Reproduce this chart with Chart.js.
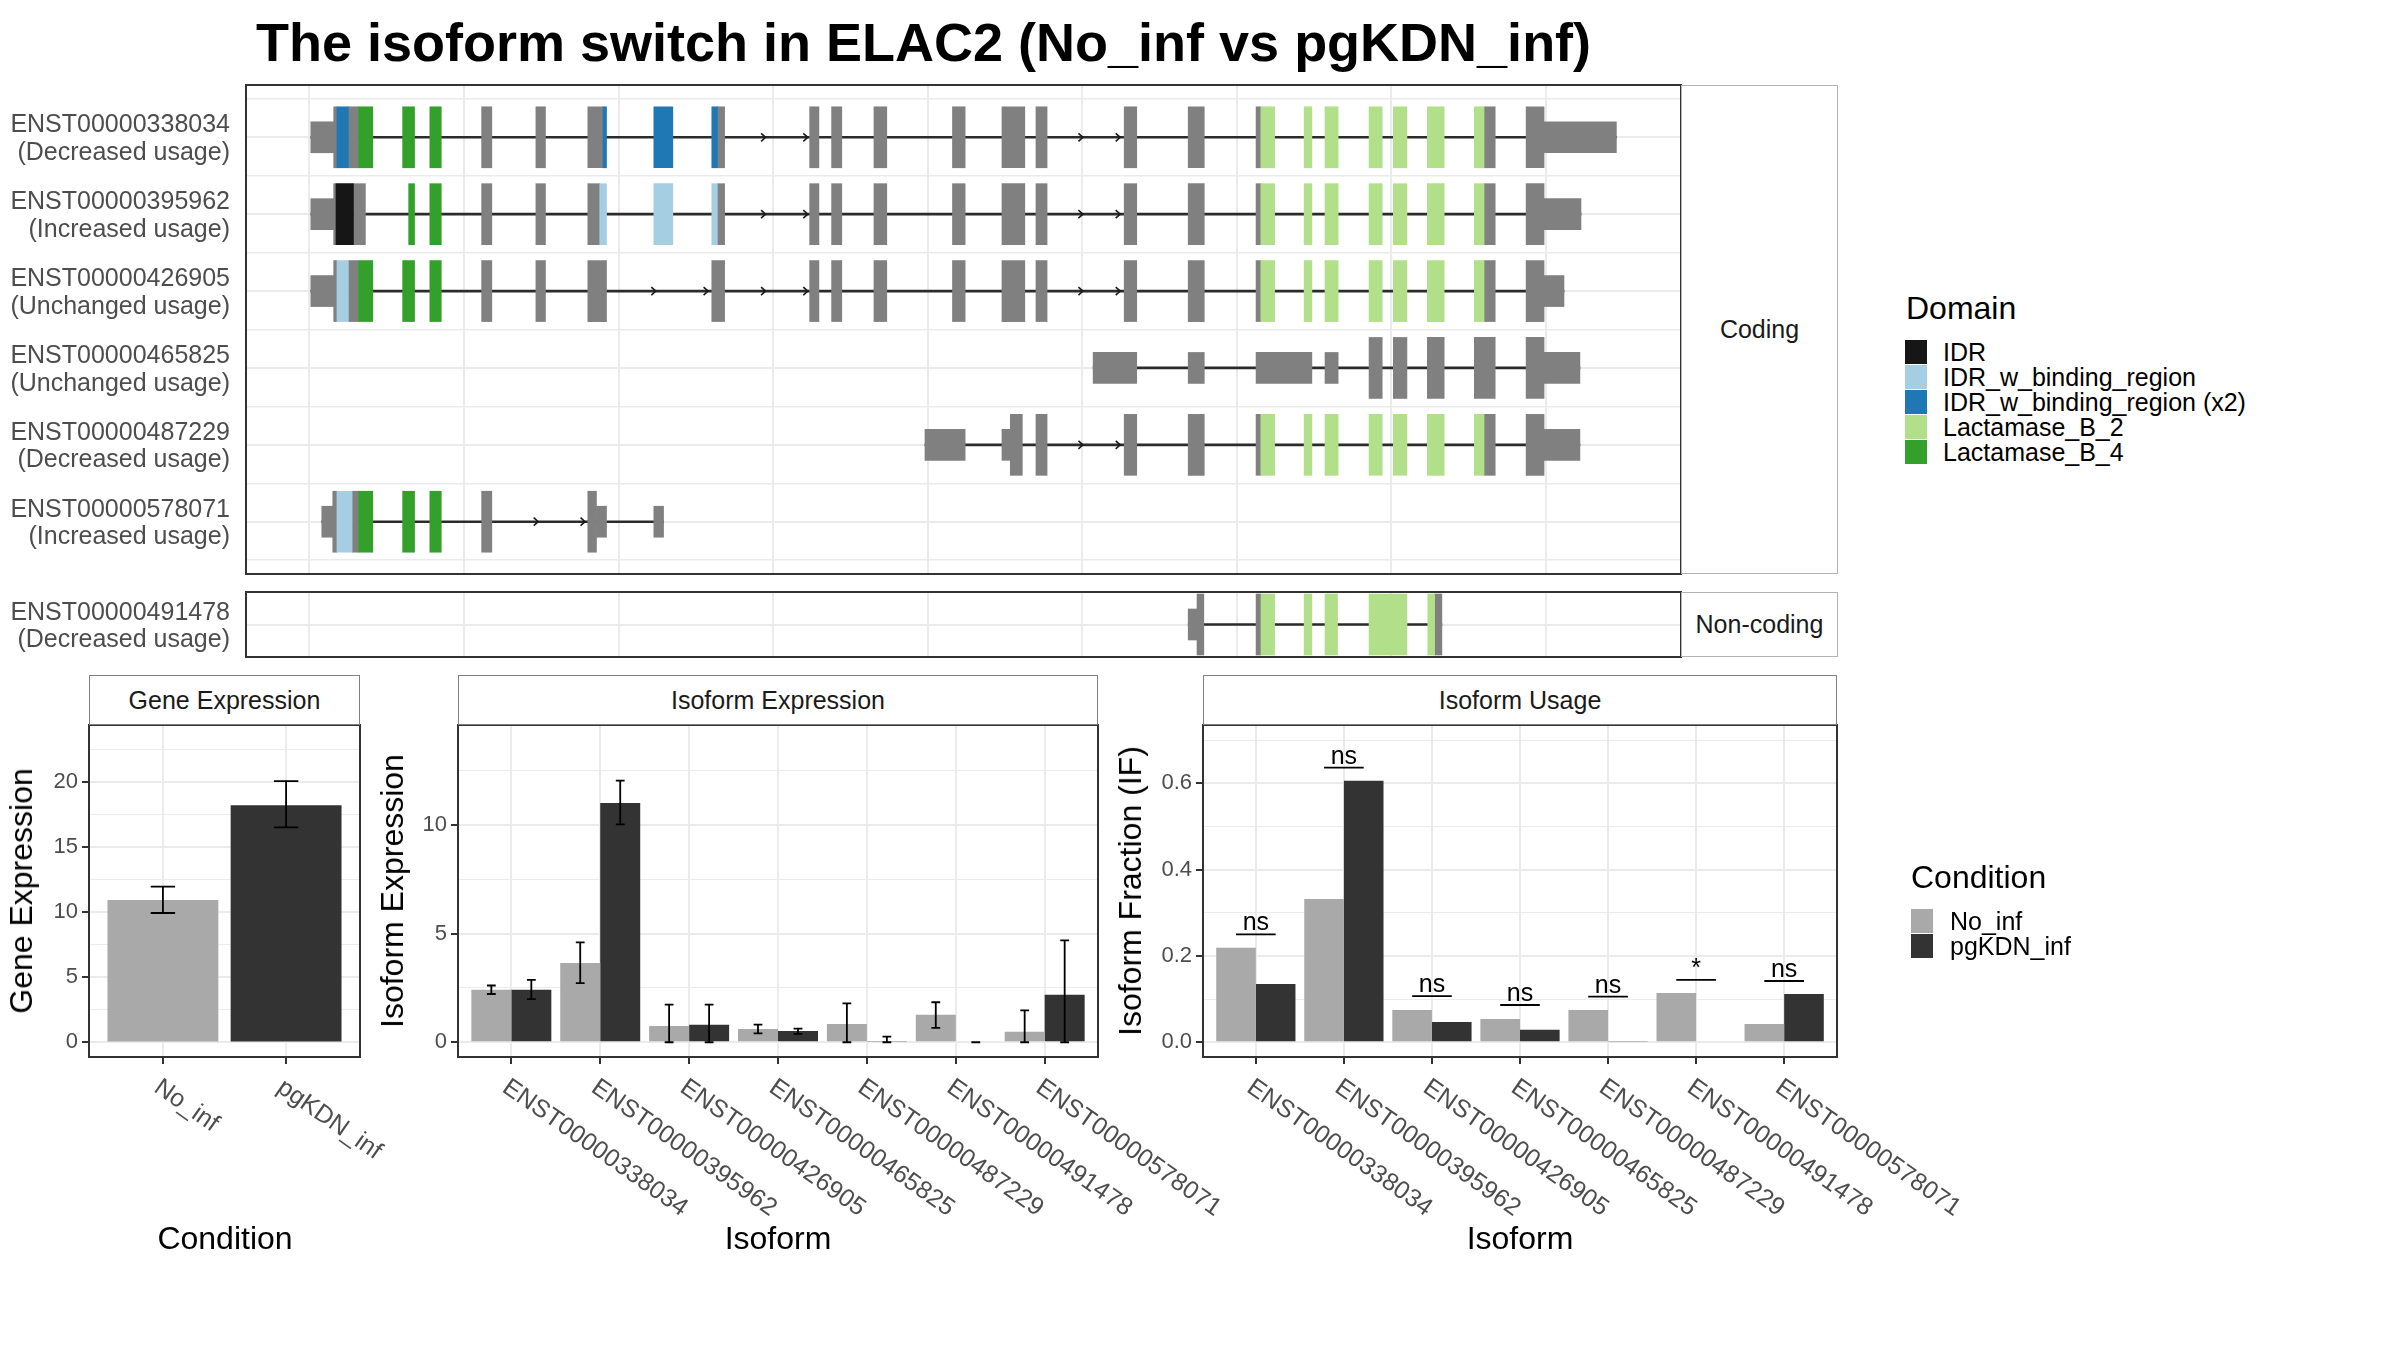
<!DOCTYPE html>
<html>
<head>
<meta charset="utf-8">
<title>The isoform switch in ELAC2 (No_inf vs pgKDN_inf)</title>
<script src="https://cdn.jsdelivr.net/npm/chart.js@4/dist/chart.umd.min.js"></script>
<style>
  html, body { margin:0; padding:0; background:#ffffff; }
  body { width:2400px; height:1350px; position:relative; overflow:hidden; font-family:'Liberation Sans', Arial, Helvetica, sans-serif; }
  canvas { position:absolute; }
  .txt { position:absolute; white-space:nowrap; }
  .strip { position:absolute; box-sizing:border-box; background:#fff; display:flex; align-items:center; justify-content:center; font-size:25px; line-height:25px; color:#1a1a1a; }
  .key { position:absolute; }
</style>
</head>
<body>
<script>
// ================= DATA =================
const titleText = 'The isoform switch in ELAC2 (No_inf vs pgKDN_inf)';

// --- transcript structure panel (x = rescaled genomic coordinate) ---
const transcriptIds = ['ENST00000338034','ENST00000395962','ENST00000426905','ENST00000465825','ENST00000487229','ENST00000578071'];
const transcriptUsage = ['Decreased usage','Increased usage','Unchanged usage','Unchanged usage','Decreased usage','Increased usage'];
const nonCodingIds = ['ENST00000491478'];
const nonCodingUsage = ['Decreased usage'];
const coordTicks = [100,200,300,400,500,600,700,800,900];
const coordLimits = [58.97, 987.3];

// [row, start, end]
const intronSpans = [[0,100.9,945.5],[1,100.9,922.6],[2,100.9,911.6],[3,607.0,921.9],[4,498.2,921.9],[5,108.0,329.1]];
const utrExons = [
  [0,100.9,115.7],[0,898.7,945.5],
  [1,100.9,115.7],[1,898.7,922.6],
  [2,100.9,115.7],[2,898.7,911.6],
  [3,607.0,635.2],[3,668.5,678.9],[3,712.4,748.5],[3,757.0,765.5],[3,898.7,921.9],
  [4,498.2,524.2],[4,548.0,553.4],[4,898.7,921.9],
  [5,108.0,115.1],[5,285.7,292.2],[5,322.8,329.1]
];
const cdsNoDomain = [
  [0,115.7,117.8],[0,125.2,131.8],[0,211.4,218.0],[0,246.5,252.7],[0,280.1,289.9],[0,363.9,368.6],[0,423.6,429.6],[0,437.8,444.4],[0,465.2,473.5],[0,516.0,524.2],[0,548.0,562.8],[0,570.0,577.2],[0,627.1,635.2],[0,668.5,678.9],[0,712.4,715.5],[0,859.9,867.1],[0,887.1,898.7],
  [1,115.7,117.2],[1,128.5,136.2],[1,211.4,218.0],[1,246.5,252.7],[1,280.1,287.8],[1,363.9,368.6],[1,423.6,429.6],[1,437.8,444.4],[1,465.2,473.5],[1,516.0,524.2],[1,548.0,562.8],[1,570.0,577.2],[1,627.1,635.2],[1,668.5,678.9],[1,712.4,715.5],[1,859.9,867.1],[1,887.1,898.7],
  [2,115.7,117.8],[2,125.2,131.8],[2,211.4,218.0],[2,246.5,252.7],[2,280.1,292.2],[2,360.3,368.6],[2,423.6,429.6],[2,437.8,444.4],[2,465.2,473.5],[2,516.0,524.2],[2,548.0,562.8],[2,570.0,577.2],[2,627.1,635.2],[2,668.5,678.9],[2,712.4,715.5],[2,859.9,867.1],[2,887.1,898.7],
  [3,785.5,794.0],[3,801.2,810.0],[3,823.2,834.1],[3,853.6,867.1],[3,887.1,898.7],
  [4,553.4,561.2],[4,570.0,577.2],[4,627.1,635.2],[4,668.5,678.9],[4,712.4,715.5],[4,859.9,867.1],[4,887.1,898.7],
  [5,115.1,117.8],[5,127.6,131.8],[5,211.4,218.0],[5,280.1,285.7]
];
const domainNames = ['IDR','IDR_w_binding_region','IDR_w_binding_region (x2)','Lactamase_B_2','Lactamase_B_4'];
const domainColors = ['#161616','#a6cee3','#1f78b4','#b2df8a','#33a02c'];
const domIDR = [[1,117.2,128.5]];
const domIDRbind = [[1,287.8,292.2],[1,322.8,335.1],[1,360.3,363.9],[2,117.8,125.2],[5,117.8,127.6]];
const domIDRbind2 = [[0,117.8,125.2],[0,289.9,292.2],[0,322.8,335.1],[0,360.3,363.9]];
const domLacB2 = [
  [0,715.5,724.4],[0,743.5,748.5],[0,757.0,765.5],[0,785.5,794.0],[0,801.2,810.0],[0,823.2,834.1],[0,853.6,859.9],
  [1,715.5,724.4],[1,743.5,748.5],[1,757.0,765.5],[1,785.5,794.0],[1,801.2,810.0],[1,823.2,834.1],[1,853.6,859.9],
  [2,715.5,724.4],[2,743.5,748.5],[2,757.0,765.5],[2,785.5,794.0],[2,801.2,810.0],[2,823.2,834.1],[2,853.6,859.9],
  [4,715.5,724.4],[4,743.5,748.5],[4,757.0,765.5],[4,785.5,794.0],[4,801.2,810.0],[4,823.2,834.1],[4,853.6,859.9]
];
const domLacB4 = [
  [0,131.8,141.0],[0,160.3,168.0],[0,177.9,185.3],
  [1,164.2,168.0],[1,177.9,185.3],
  [2,131.8,141.0],[2,160.3,168.0],[2,177.9,185.3],
  [5,131.8,141.0],[5,160.3,168.0],[5,177.9,185.3]
];
// [row, position]
const intronArrows = [
  [0,395.1],[0,422.4],[0,600.4],[0,624.5],
  [1,395.1],[1,422.4],[1,600.4],[1,624.5],
  [2,324.1],[2,357.9],[2,395.1],[2,422.4],[2,600.4],[2,624.5],
  [4,600.4],[4,624.5],
  [5,248.0],[5,278.3]
];
const ncIntronSpans = [[0,668.5,832.6]];
const ncUtrExons = [[0,668.5,674.2]];
const ncCdsNoDomain = [[0,674.2,678.6],[0,712.4,715.6],[0,827.9,832.6]];
const ncLacB2 = [[0,715.6,724.4],[0,743.5,748.5],[0,757.0,765.1],[0,785.5,810.0],[0,823.5,827.9]];

// --- expression panels ---
const conditions = ['No_inf','pgKDN_inf'];
const conditionColors = ['#a9a9a9','#333333'];
const geneExpr = [10.94, 18.24];
const geneExprLow = [9.95, 16.53];
const geneExprHigh = [11.97, 20.09];
const geneMajorTicks = [0,5,10,15,20];
const geneMinorTicks = [2.5,7.5,12.5,17.5,22.5];

const isoforms = ['ENST00000338034','ENST00000395962','ENST00000426905','ENST00000465825','ENST00000487229','ENST00000491478','ENST00000578071'];
const isoExprNoInf = [2.41, 3.65, 0.75, 0.61, 0.84, 1.26, 0.48];
const isoExprNoInfLow = [2.22, 2.72, 0, 0.41, 0, 0.66, 0];
const isoExprNoInfHigh = [2.61, 4.60, 1.73, 0.81, 1.79, 1.84, 1.47];
const isoExprPg = [2.41, 11.01, 0.80, 0.52, 0.06, 0.00, 2.18];
const isoExprPgLow = [1.98, 10.03, 0, 0.38, 0, 0, 0];
const isoExprPgHigh = [2.87, 12.04, 1.73, 0.63, 0.26, 0, 4.69];
const isoMajorTicks = [0,5,10];
const isoMinorTicks = [2.5,7.5,12.5];

const usageNoInf = [0.219, 0.332, 0.075, 0.054, 0.075, 0.114, 0.0425];
const usagePg = [0.135, 0.606, 0.047, 0.029, 0.003, 0, 0.112];
const sigLabels = ['ns','ns','ns','ns','ns','*','ns'];
const sigLevels = [0.250, 0.6365, 0.107, 0.0865, 0.106, 0.1445, 0.142];
const usageMajorTicks = [0,0.2,0.4,0.6];
const usageMinorTicks = [0.1,0.3,0.5,0.7];
const usageTickLabels = ['0.0','0.2','0.4','0.6'];

// ================= HELPERS =================
const FONT = "'Liberation Sans', Arial, Helvetica, sans-serif";
Chart.defaults.font.family = FONT;
Chart.defaults.color = '#4d4d4d';
Chart.defaults.animation = false;
const GRID = '#ebebeb';

function makeCanvas(left, top, w, h) {
  const c = document.createElement('canvas');
  c.width = w; c.height = h;
  c.style.left = left + 'px'; c.style.top = top + 'px';
  c.style.width = w + 'px'; c.style.height = h + 'px';
  document.body.appendChild(c);
  return c;
}
function addText(str, o) {
  const d = document.createElement('div');
  d.className = 'txt';
  d.textContent = str;
  d.style.fontSize = o.size + 'px';
  d.style.lineHeight = o.size + 'px';
  d.style.color = o.color || '#000';
  d.style.fontWeight = o.weight || 'normal';
  d.style.left = o.x + 'px';
  d.style.top = o.y + 'px';
  const tx = o.align === 'center' ? '-50%' : '0';
  d.style.transform = 'translate(' + tx + ', -50%)' + (o.rotate ? ' rotate(' + o.rotate + 'deg)' : '');
  document.body.appendChild(d);
}
function addStrip(str, left, top, w, h, border) {
  const d = document.createElement('div');
  d.className = 'strip';
  d.textContent = str;
  d.style.left = left + 'px'; d.style.top = top + 'px';
  d.style.width = w + 'px'; d.style.height = h + 'px';
  d.style.border = '1.5px solid ' + border;
  document.body.appendChild(d);
}
function addKey(color, left, top, w, h) {
  const d = document.createElement('div');
  d.className = 'key';
  d.style.left = left + 'px'; d.style.top = top + 'px';
  d.style.width = w + 'px'; d.style.height = h + 'px';
  d.style.background = color;
  document.body.appendChild(d);
}

const panelBorder = {
  id: 'panelBorder',
  afterDraw(chart) {
    const a = chart.chartArea, ctx = chart.ctx;
    ctx.save();
    ctx.strokeStyle = '#333333';
    ctx.lineWidth = 2;
    ctx.strokeRect(a.left, a.top, a.right - a.left, a.bottom - a.top);
    ctx.restore();
  }
};
function arrowPlugin(points) {
  return {
    id: 'intronArrows',
    afterDatasetsDraw(chart) {
      const ctx = chart.ctx, xs = chart.scales.x, ys = chart.scales.y;
      ctx.save();
      ctx.strokeStyle = '#1a1a1a';
      ctx.lineWidth = 1.6;
      points.forEach(([r, v]) => {
        const px = xs.getPixelForValue(v), py = ys.getPixelForValue(r);
        ctx.beginPath();
        ctx.moveTo(px - 4.5, py - 4);
        ctx.lineTo(px, py);
        ctx.lineTo(px - 4.5, py + 4);
        ctx.stroke();
      });
      ctx.restore();
    }
  };
}
const errorBars = {
  id: 'errorBars',
  afterDatasetsDraw(chart) {
    const ctx = chart.ctx, ys = chart.scales.y;
    chart.data.datasets.forEach((ds, di) => {
      if (!ds.errLow) return;
      const meta = chart.getDatasetMeta(di);
      meta.data.forEach((bar, i) => {
        const x = bar.x, half = bar.width * 0.11;
        const y1 = ys.getPixelForValue(ds.errLow[i]);
        const y2 = ys.getPixelForValue(ds.errHigh[i]);
        ctx.save();
        ctx.strokeStyle = '#000';
        ctx.lineWidth = 1.8;
        ctx.beginPath();
        ctx.moveTo(x, y1); ctx.lineTo(x, y2);
        ctx.moveTo(x - half, y1); ctx.lineTo(x + half, y1);
        ctx.moveTo(x - half, y2); ctx.lineTo(x + half, y2);
        ctx.stroke();
        ctx.restore();
      });
    });
  }
};
function rotatedLabels(labels, size, dx, dy) {
  return {
    id: 'rotatedLabels',
    afterDraw(chart) {
      const xs = chart.scales.x, ctx = chart.ctx, a = chart.chartArea;
      ctx.save();
      ctx.fillStyle = '#4d4d4d';
      ctx.font = size + 'px ' + FONT;
      labels.forEach((lab, i) => {
        const px = xs.getPixelForValue(i);
        ctx.save();
        ctx.translate(px + dx, a.bottom + dy);
        ctx.rotate(35 * Math.PI / 180);
        ctx.textAlign = 'left';
        ctx.textBaseline = 'alphabetic';
        ctx.fillText(lab, 0, size * 0.716);
        ctx.restore();
      });
      ctx.restore();
    }
  };
}
function sigPlugin(labels, levels) {
  return {
    id: 'significance',
    afterDatasetsDraw(chart) {
      const m0 = chart.getDatasetMeta(0), m1 = chart.getDatasetMeta(1);
      const ys = chart.scales.y, ctx = chart.ctx;
      ctx.save();
      ctx.strokeStyle = '#000';
      ctx.fillStyle = '#000';
      ctx.lineWidth = 1.8;
      ctx.font = '25px ' + FONT;
      ctx.textAlign = 'center';
      ctx.textBaseline = 'alphabetic';
      labels.forEach((lab, i) => {
        const x1 = m0.data[i].x, x2 = m1.data[i].x;
        const y = ys.getPixelForValue(levels[i]);
        ctx.beginPath(); ctx.moveTo(x1, y); ctx.lineTo(x2, y); ctx.stroke();
        ctx.fillText(lab, (x1 + x2) / 2, y - 4);
      });
      ctx.restore();
    }
  };
}
function segSet(list, color, thickness, order) {
  return {
    type: 'bar',
    data: list.map(([r, s, e]) => ({ y: r, x: [s, e] })),
    backgroundColor: color,
    borderWidth: 0,
    barThickness: thickness,
    grouped: false,
    order: order
  };
}
function structureChart(canvas, ids, usage, rowMin, rowMax, rowTicks, sets, arrows, padTop, padBottom) {
  return new Chart(canvas, {
    type: 'bar',
    data: { datasets: sets },
    options: {
      responsive: false, animation: false, indexAxis: 'y',
      layout: { padding: { top: padTop, bottom: padBottom, left: 0, right: 159 } },
      plugins: { legend: { display: false }, tooltip: { enabled: false } },
      scales: {
        x: {
          type: 'linear', position: 'bottom', min: coordLimits[0], max: coordLimits[1], offset: false,
          afterBuildTicks: s => { s.ticks = coordTicks.map(v => ({ value: v })); },
          afterFit: s => { s.height = 0; },
          ticks: { display: false },
          grid: { color: GRID, lineWidth: 2, drawTicks: false, offset: false },
          border: { display: false }
        },
        y: {
          type: 'linear', position: 'left', min: rowMin, max: rowMax, reverse: true, offset: false,
          afterBuildTicks: s => { s.ticks = rowTicks.map(v => ({ value: v })); },
          afterFit: s => { s.width = 246; },
          ticks: {
            autoSkip: false, padding: 16, color: '#4d4d4d', labelOffset: 2,
            font: { size: 25, lineHeight: 1.1 },
            callback: v => Number.isInteger(v) ? [ids[v], '(' + usage[v] + ')'] : ''
          },
          grid: { color: GRID, lineWidth: c => Number.isInteger(c.tick.value) ? 2 : 1.5, drawTicks: false, offset: false },
          border: { display: false }
        }
      }
    },
    plugins: [panelBorder, arrowPlugin(arrows)]
  });
}
function barPanel(canvas, datasets, nCat, yMin, yMax, major, minor, majorLabels, yWidth, padRight, labels, extraPlugins) {
  const allTicks = major.concat(minor).sort((a, b) => a - b);
  const catTicks = labels.map((_, i) => i);
  return new Chart(canvas, {
    type: 'bar',
    data: { datasets: datasets },
    options: {
      responsive: false, animation: false,
      layout: { padding: { top: 30, bottom: 180, left: 0, right: padRight } },
      plugins: { legend: { display: false }, tooltip: { enabled: false } },
      datasets: { bar: { categoryPercentage: 0.9, barPercentage: 1.0, borderWidth: 0 } },
      scales: {
        x: {
          type: 'linear', min: -0.6, max: nCat - 0.4, offset: false,
          afterBuildTicks: s => { s.ticks = catTicks.map(v => ({ value: v })); },
          afterFit: s => { s.height = 7; },
          ticks: { display: false },
          grid: { color: GRID, lineWidth: 2, offset: false, drawTicks: true, tickLength: 7, tickColor: '#333333', tickWidth: 2 },
          border: { display: false }
        },
        y: {
          type: 'linear', min: yMin, max: yMax,
          afterBuildTicks: s => { s.ticks = allTicks.map(v => ({ value: v })); },
          afterFit: s => { s.width = yWidth; },
          ticks: {
            autoSkip: false, padding: 4, color: '#4d4d4d', font: { size: 22 },
            callback: v => { const k = major.indexOf(v); return k >= 0 ? majorLabels[k] : ''; }
          },
          grid: {
            color: GRID,
            lineWidth: c => major.indexOf(c.tick.value) >= 0 ? 2 : 1.1,
            tickLength: 7, tickWidth: 2,
            tickColor: c => major.indexOf(c.tick.value) >= 0 ? '#333333' : 'rgba(0,0,0,0)'
          },
          border: { display: false }
        }
      }
    },
    plugins: [panelBorder, errorBars, rotatedLabels(labels, 25, 0, 19)].concat(extraPlugins || [])
  });
}

// ================= TITLE =================
addText(titleText, { x: 256, y: 42, size: 54, weight: 'bold', color: '#000' });

// ================= TRANSCRIPT STRUCTURE =================
const rowTicksCoding = [-0.5,0,0.5,1,1.5,2,2.5,3,3.5,4,4.5,5,5.5];
structureChart(
  makeCanvas(0, 25, 1840, 609), transcriptIds, transcriptUsage, -0.68, 5.68, rowTicksCoding,
  [
    segSet(domIDR, domainColors[0], 61, 0),
    segSet(domIDRbind, domainColors[1], 61, 0),
    segSet(domIDRbind2, domainColors[2], 61, 0),
    segSet(domLacB2, domainColors[3], 61, 0),
    segSet(domLacB4, domainColors[4], 61, 0),
    segSet(cdsNoDomain, '#808080', 61, 1),
    segSet(utrExons, '#808080', 31, 1),
    segSet(intronSpans, '#2b2b2b', 2, 5)
  ],
  intronArrows, 60, 60
);
structureChart(
  makeCanvas(0, 532, 1840, 185), nonCodingIds, nonCodingUsage, -0.4265, 0.4265, [0],
  [
    segSet(ncLacB2, domainColors[3], 61, 0),
    segSet(ncCdsNoDomain, '#808080', 61, 1),
    segSet(ncUtrExons, '#808080', 31, 1),
    segSet(ncIntronSpans, '#2b2b2b', 2, 5)
  ],
  [], 60, 60
);
addStrip('Coding', 1681, 85, 157, 489, '#b3b3b3');
addStrip('Non-coding', 1681, 592, 157, 65, '#b3b3b3');

// ================= GENE EXPRESSION =================
barPanel(
  makeCanvas(0, 695, 420, 549),
  [{
    data: conditions.map((c, i) => ({ x: i, y: geneExpr[i] })),
    backgroundColor: conditionColors, errLow: geneExprLow, errHigh: geneExprHigh
  }],
  conditions.length, -1.12, 24.40, geneMajorTicks, geneMinorTicks, geneMajorTicks.map(String), 89, 60, conditions
);
addStrip('Gene Expression', 89, 675, 271, 50, '#808080');
addText('Gene Expression', { x: 21, y: 891, size: 32, align: 'center', rotate: -90 });
addText('Condition', { x: 225, y: 1238, size: 32, align: 'center' });

// ================= ISOFORM EXPRESSION =================
barPanel(
  makeCanvas(400, 695, 840, 549),
  [
    { label: conditions[0], data: isoforms.map((c, i) => ({ x: i, y: isoExprNoInf[i] })), backgroundColor: conditionColors[0], errLow: isoExprNoInfLow, errHigh: isoExprNoInfHigh },
    { label: conditions[1], data: isoforms.map((c, i) => ({ x: i, y: isoExprPg[i] })), backgroundColor: conditionColors[1], errLow: isoExprPgLow, errHigh: isoExprPgHigh }
  ],
  isoforms.length, -0.68, 14.6, isoMajorTicks, isoMinorTicks, isoMajorTicks.map(String), 58, 142, isoforms
);
addStrip('Isoform Expression', 458, 675, 640, 50, '#808080');
addText('Isoform Expression', { x: 392, y: 891, size: 32, align: 'center', rotate: -90 });
addText('Isoform', { x: 778, y: 1238, size: 32, align: 'center' });

// ================= ISOFORM USAGE =================
barPanel(
  makeCanvas(1140, 695, 860, 549),
  [
    { label: conditions[0], data: isoforms.map((c, i) => ({ x: i, y: usageNoInf[i] })), backgroundColor: conditionColors[0] },
    { label: conditions[1], data: isoforms.map((c, i) => ({ x: i, y: usagePg[i] })), backgroundColor: conditionColors[1] }
  ],
  isoforms.length, -0.034, 0.735, usageMajorTicks, usageMinorTicks, usageTickLabels, 63, 163, isoforms,
  [sigPlugin(sigLabels, sigLevels)]
);
addStrip('Isoform Usage', 1203, 675, 634, 50, '#808080');
addText('Isoform Fraction (IF)', { x: 1130, y: 891, size: 32, align: 'center', rotate: -90 });
addText('Isoform', { x: 1520, y: 1238, size: 32, align: 'center' });

// ================= LEGENDS =================
addText('Domain', { x: 1906, y: 308, size: 32 });
domainNames.forEach((n, i) => {
  addKey(domainColors[i], 1905, 339.5 + i * 25, 22, 24.5);
  addText(n, { x: 1943, y: 351.5 + i * 25, size: 25 });
});
addText('Condition', { x: 1911, y: 877, size: 32 });
conditions.forEach((n, i) => {
  addKey(conditionColors[i], 1911, 908.5 + i * 25, 22, 24.5);
  addText(n, { x: 1950, y: 920.5 + i * 25, size: 25 });
});
</script>
</body>
</html>
